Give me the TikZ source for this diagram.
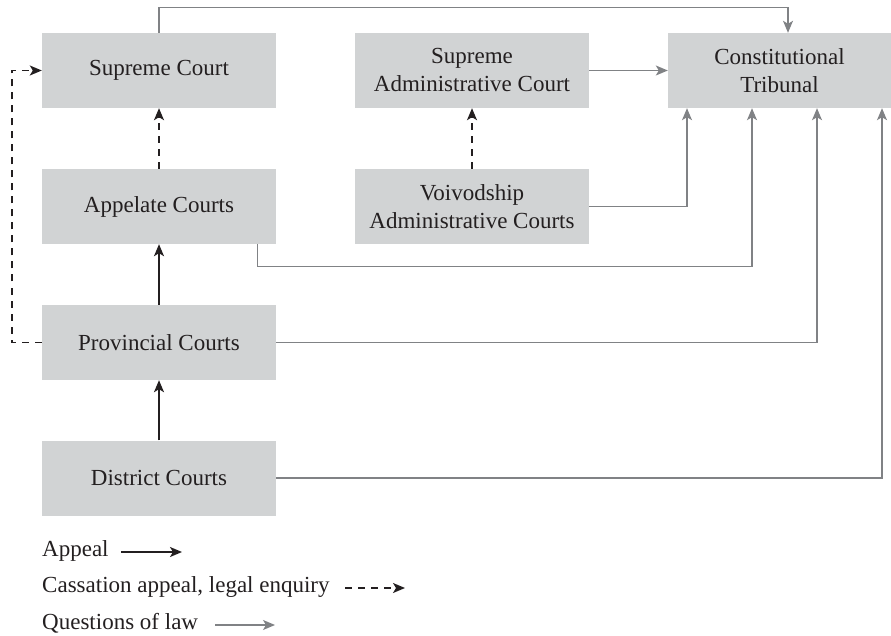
\documentclass[tikz,border=0pt]{standalone}
\usepackage{fontspec}
\setmainfont{Liberation Serif}
\usetikzlibrary{arrows.meta,calc}
\definecolor{boxgray}{HTML}{D1D3D4}
\definecolor{ink}{HTML}{231F20}
\definecolor{lawgray}{HTML}{808285}
\tikzset{
  court/.style={fill=boxgray, text=ink, minimum width=234pt, minimum height=75pt, inner sep=0pt, align=center, font=\fontsize{23}{28}\selectfont},
  legtext/.style={text=ink, inner sep=0pt, anchor=base west, font=\fontsize{23}{28}\selectfont},
  tip/.style={-{Stealth[length=12pt,width=10pt,inset=3pt]}},
  appeal/.style={tip, draw=ink, line width=1.6pt},
  cass/.style={tip, draw=ink, line width=1.5pt, dash pattern=on 7pt off 6pt},
  law/.style={tip, draw=lawgray, line width=1.3pt},
}
\begin{document}
\begin{tikzpicture}[x=1pt,y=-1pt]
\useasboundingbox (0,0) rectangle (891,636);
% boxes
\node[court] (sc) at (159,70.5) {Supreme Court};
\node[court] (sac) at (472,70.5) {Supreme\\Administrative Court};
\node[court, minimum width=223pt] (ct) at (779.5,70.5) {Constitutional\\Tribunal};
\node[court] (ac) at (159,206.5) {Appelate Courts};
\node[court] (vac) at (472,206.5) {Voivodship\\Administrative Courts};
\node[court] (pc) at (159,342.5) {Provincial Courts};
\node[court] (dc) at (159,478) {District Courts};
% appeal
\draw[appeal] (dc.north) -- (pc.south);
\draw[appeal] (pc.north) -- (ac.south);
% cassation
\draw[cass] (ac.north) -- (sc.south);
\draw[cass] (vac.north) -- (sac.south);
\draw[cass] (pc.west) -- ++(-30,0) |- (sc.west);
% questions of law
\draw[law] (sc.north) -- ++(0,-25) -| ([xshift=8.5pt]ct.north);
\draw[law] (sac.east) -- (ct.west);
\draw[law] (vac.east) -| ([xshift=-92.5pt]ct.south);
\draw[law] ([xshift=-19pt]ac.south east) -- ++(0,22) -| ([xshift=-27.5pt]ct.south);
\draw[law] (pc.east) -| ([xshift=37.5pt]ct.south);
\draw[law] (dc.east) -| ([xshift=102.5pt]ct.south);
% legend
\node[legtext] (l1) at (42,556) {Appeal};
\node[legtext] (l2) at (42,592) {Cassation appeal, legal enquiry};
\node[legtext] (l3) at (42,629) {Questions of law};
\coordinate (a1s) at (121,552); \coordinate (a1e) at (182,552);
\coordinate (a2s) at (345,588); \coordinate (a2e) at (405,588);
\coordinate (a3s) at (215,625); \coordinate (a3e) at (275,625);
\draw[appeal] (a1s) -- (a1e);
\draw[cass] (a2s) -- (a2e);
\draw[law] (a3s) -- (a3e);
\end{tikzpicture}
\end{document}
